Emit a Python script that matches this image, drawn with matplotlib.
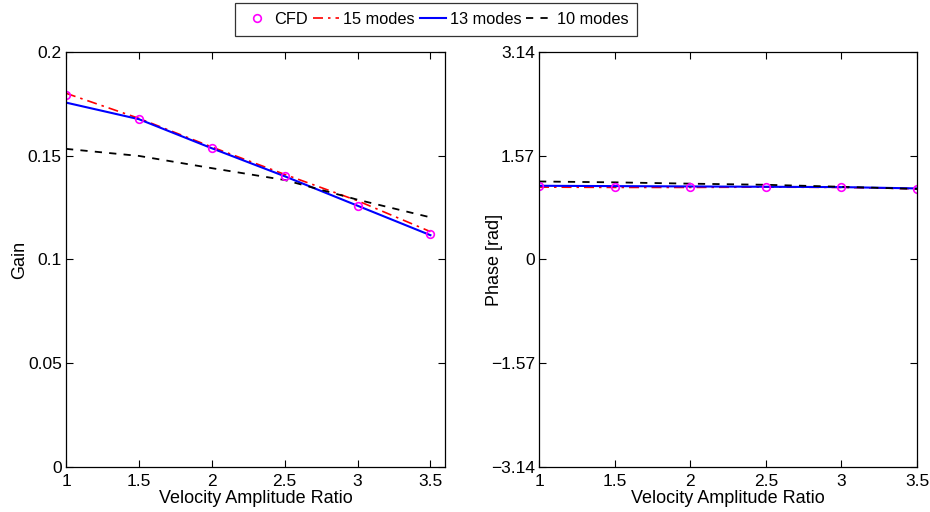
import matplotlib
matplotlib.use("Agg")
import matplotlib.pyplot as plt
from matplotlib.lines import Line2D

plt.rcParams['font.family'] = ['Liberation Sans', 'DejaVu Sans']
plt.rcParams['axes.unicode_minus'] = True

# Velocity amplitude ratios
ratio = [1.0, 1.5, 2.0, 2.5, 3.0, 3.5]

# Gain
gain_cfd = [0.1794, 0.1676, 0.1536, 0.1401, 0.1259, 0.1123]
gain_15 = [0.1801, 0.1680, 0.1542, 0.1410, 0.1283, 0.1134]
gain_13 = [0.1756, 0.1676, 0.1536, 0.1401, 0.1259, 0.1117]
gain_10 = [0.1533, 0.1499, 0.1440, 0.1383, 0.1288, 0.1203]

# Phase [rad]
phase_cfd = [1.105, 1.100, 1.100, 1.100, 1.095, 1.070]
phase_15 = [1.095, 1.090, 1.090, 1.095, 1.090, 1.070]
phase_13 = [1.115, 1.110, 1.105, 1.100, 1.095, 1.075]
phase_10 = [1.180, 1.167, 1.147, 1.130, 1.100, 1.067]

gain_ticks = [0, 0.05, 0.1, 0.15, 0.2]
gain_ticklabels = ['0', '0.05', '0.1', '0.15', '0.2']
phase_ticks = [-3.14, -1.57, 0, 1.57, 3.14]
phase_ticklabels = ['\u22123.14', '\u22121.57', '0', '1.57', '3.14']
ratio_ticks = [1, 1.5, 2, 2.5, 3, 3.5]
ratio_ticklabels = ['1', '1.5', '2', '2.5', '3', '3.5']

fig = plt.figure(figsize=(9.3, 5.12), dpi=100)
ax1 = fig.add_axes([0.071, 0.088, 0.4075, 0.8105])
ax2 = fig.add_axes([0.5796, 0.088, 0.4065, 0.8105])


def draw(ax, cfd, m15, m13, m10):
    ax.plot(ratio, m15, color='red', linestyle='-.', linewidth=1.2, dashes=(6, 3, 1.5, 3))
    ax.plot(ratio, m13, color='blue', linestyle='-', linewidth=1.5)
    ax.plot(ratio, m10, color='black', linestyle='--', linewidth=1.3, dashes=(4, 4))
    ax.plot(ratio, cfd, linestyle='none', marker='o', markersize=5.5,
            markerfacecolor='none', markeredgecolor='magenta', markeredgewidth=1.2)


draw(ax1, gain_cfd, gain_15, gain_13, gain_10)
draw(ax2, phase_cfd, phase_15, phase_13, phase_10)

ax1.set_xlim(1, 3.6)
ax1.set_ylim(0, 0.2)
ax1.set_yticks(gain_ticks)
ax1.set_yticklabels(gain_ticklabels)
ax1.set_ylabel('Gain', fontsize=13)
ax1.yaxis.set_label_coords(-0.1, 0.5)

ax2.set_xlim(1, 3.5)
ax2.set_ylim(-3.14, 3.14)
ax2.set_yticks(phase_ticks)
ax2.set_yticklabels(phase_ticklabels)
ax2.set_ylabel('Phase [rad]', fontsize=13)
ax2.yaxis.set_label_coords(-0.094, 0.5)

for ax in (ax1, ax2):
    ax.set_xticks(ratio_ticks)
    ax.set_xticklabels(ratio_ticklabels)
    ax.set_xlabel('Velocity Amplitude Ratio', fontsize=13, labelpad=1)
    ax.tick_params(direction='in', top=True, right=True, length=5, width=0.8,
                   labelsize=12.5, pad=3)
    ax.tick_params(axis='x', pad=5)
    for s in ax.spines.values():
        s.set_linewidth(0.9)

handles = [
    Line2D([], [], linestyle='none', marker='o', markersize=5.5, markerfacecolor='none',
           markeredgecolor='magenta', markeredgewidth=1.2),
    Line2D([], [], color='red', linestyle='-.', linewidth=1.2, dashes=(6, 3, 1.5, 3)),
    Line2D([], [], color='blue', linestyle='-', linewidth=1.5),
    Line2D([], [], color='black', linestyle='--', linewidth=1.3, dashes=(4, 4)),
]
labels = ['CFD', '15 modes', '13 modes', '10 modes']
leg = fig.legend(handles, labels, loc='upper center', bbox_to_anchor=(0.469, 0.994),
                 ncol=4, fontsize=11.8, frameon=True, fancybox=False,
                 handlelength=1.6, handletextpad=0.25, columnspacing=0.3,
                 borderpad=0.55, borderaxespad=0)
leg.get_frame().set_edgecolor('black')
leg.get_frame().set_linewidth(0.9)

fig.savefig('out.png', dpi=100)
